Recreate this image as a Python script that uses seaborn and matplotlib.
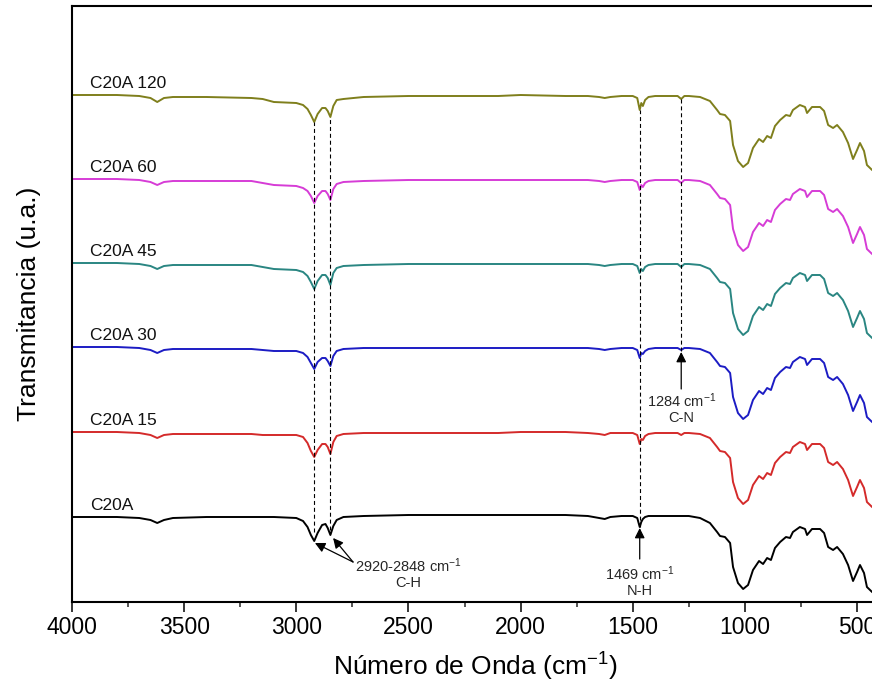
import matplotlib
matplotlib.use("Agg")
import matplotlib.pyplot as plt
import pandas as pd
import seaborn as sns

# ---------------- data ----------------
wavenumber = [4000, 3800, 3700, 3650, 3620, 3590, 3550, 3400, 3200, 3150, 3100, 3000,
              2970, 2950, 2935, 2920, 2905, 2885, 2870, 2860, 2848, 2835, 2820, 2790,
              2700, 2500, 2300, 2100, 2000, 1800, 1700, 1650, 1625, 1600, 1550, 1500,
              1480, 1469, 1462, 1455, 1445, 1430, 1400, 1350, 1300, 1284, 1270, 1250,
              1200, 1156, 1124, 1111, 1089, 1066, 1053, 1031, 1008, 986, 964, 937,
              919, 901, 884, 866, 843, 817, 799, 786, 755, 732, 723, 701,
              665, 647, 629, 607, 589, 563, 540, 518, 500, 487, 469, 456,
              433, 420]

series_names = ["C20A", "C20A 15", "C20A 30", "C20A 45", "C20A 60", "C20A 120"]
# vertical offset (flat level) of each stacked spectrum, arbitrary units
levels = [85, 170, 255, 339, 423, 507]
colors = ["#000000", "#d42a2a", "#1c1cc4", "#2a8682", "#d63cd6", "#7f7f1c"]

# downward excursion (band depth) of each spectrum below its flat level
dip_c20a = [0, 0, 1, 3, 6, 3, 1, 0, 0, 0, 0, 1,
            4, 10, 18, 24, 16, 8, 7, 11, 18, 9, 3, 0,
            -1, -2, -2, -2, -2, -2, -1, 1, 2, 0, -1, -1,
            1, 10, 5, 2, 0, -1, -1, -1, -1, -1, -1, -1,
            1, 6, 15, 19, 20, 26, 50, 66, 72, 68, 53, 44,
            47, 41, 43, 31, 25, 20, 21, 15, 10, 12, 18, 12,
            12, 16, 30, 33, 30, 37, 48, 64, 55, 48, 56, 70,
            75, 77]
dip_c20a_15 = [0, 0, 1, 3, 6, 3, 2, 2, 2, 3, 3, 3,
               5, 11, 19, 25, 18, 12, 12, 15, 22, 10, 4, 2,
               1, 1, 1, 1, 0, 0, 1, 2, 3, 1, 1, 1,
               3, 12, 7, 8, 4, 2, 1, 1, 1, 3, 1, 1,
               2, 6, 15, 19, 20, 26, 50, 66, 72, 68, 53, 44,
               47, 41, 43, 31, 25, 20, 21, 15, 10, 12, 18, 12,
               12, 16, 30, 33, 30, 37, 48, 64, 55, 48, 56, 70,
               75, 77]
dip_c20a_30 = [0, 0, 1, 3, 6, 3, 2, 2, 2, 3, 4, 4,
               6, 10, 16, 22, 15, 11, 11, 14, 19, 9, 4, 2,
               1, 1, 1, 1, 1, 1, 1, 2, 3, 2, 1, 1,
               3, 11, 6, 7, 4, 2, 1, 1, 1, 3, 1, 1,
               2, 6, 15, 19, 20, 26, 50, 66, 72, 68, 53, 44,
               47, 41, 43, 31, 25, 20, 21, 15, 10, 12, 18, 12,
               12, 16, 30, 33, 30, 37, 48, 64, 55, 48, 56, 70,
               75, 77]
dip_c20a_45 = [0, 0, 1, 3, 6, 3, 2, 2, 2, 4, 6, 7,
               9, 13, 19, 26, 18, 12, 12, 15, 22, 10, 5, 3,
               2, 1, 1, 1, 1, 1, 1, 2, 3, 2, 1, 1,
               3, 10, 6, 8, 4, 2, 1, 1, 1, 4, 1, 1,
               2, 6, 15, 19, 20, 26, 50, 66, 72, 68, 53, 44,
               47, 41, 43, 31, 25, 20, 21, 15, 10, 12, 18, 12,
               12, 16, 30, 33, 30, 37, 48, 64, 55, 48, 56, 70,
               75, 77]
dip_c20a_60 = [0, 0, 1, 3, 6, 3, 2, 2, 2, 4, 6, 7,
               9, 12, 17, 24, 17, 12, 12, 15, 21, 10, 5, 3,
               2, 1, 1, 1, 1, 1, 1, 2, 3, 2, 1, 1,
               3, 11, 6, 8, 4, 2, 1, 1, 1, 4, 1, 1,
               2, 6, 15, 19, 20, 26, 50, 66, 72, 68, 53, 44,
               47, 41, 43, 31, 25, 20, 21, 15, 10, 12, 18, 12,
               12, 16, 30, 33, 30, 37, 48, 64, 55, 48, 56, 70,
               75, 77]
dip_c20a_120 = [0, 0, 1, 3, 7, 3, 2, 2, 3, 4, 7, 8,
                10, 14, 20, 27, 19, 13, 13, 16, 22, 11, 5, 4,
                2, 1, 1, 1, 0, 1, 1, 2, 3, 2, 1, 1,
                3, 15, 8, 11, 5, 2, 1, 1, 1, 4, 1, 1,
                2, 6, 15, 19, 20, 26, 50, 66, 72, 68, 53, 44,
                47, 41, 43, 31, 25, 20, 21, 15, 10, 12, 18, 12,
                12, 16, 30, 33, 30, 37, 48, 64, 55, 48, 56, 70,
                75, 77]
dips = [dip_c20a, dip_c20a_15, dip_c20a_30, dip_c20a_45, dip_c20a_60, dip_c20a_120]

xticks = [4000, 3500, 3000, 2500, 2000, 1500, 1000, 500]
xminor = [3750, 3250, 2750, 2250, 1750, 1250, 750]

# ---------------- figure ----------------
sns.set_theme(style="white")
plt.rcParams["font.family"] = ["Liberation Sans", "DejaVu Sans"]
plt.rcParams["mathtext.fontset"] = "custom"
plt.rcParams["mathtext.rm"] = "Liberation Sans"
plt.rcParams["mathtext.it"] = "Liberation Sans:italic"
plt.rcParams["mathtext.bf"] = "Liberation Sans:bold"

rows = []
for name, lvl, dip in zip(series_names, levels, dips):
    for w, d in zip(wavenumber, dip):
        rows.append({"wn": w, "T": lvl - d, "serie": name})
df = pd.DataFrame(rows)

fig = plt.figure(figsize=(8.72, 6.93), dpi=100)
ax = fig.add_axes([72 / 872, 91 / 693, 807.5 / 872, 596 / 693])

sns.lineplot(data=df, x="wn", y="T", hue="serie", hue_order=series_names,
             palette=dict(zip(series_names, colors)), estimator=None,
             sort=False, legend=False, linewidth=1.4, ax=ax)

ax.set_xlim(4000, 400)
ax.set_ylim(0, 596)
ax.set_xticks(xticks)
ax.set_xticks(xminor, minor=True)
ax.set_yticks([])
ax.tick_params(axis="x", which="major", direction="out", length=7.2, width=1.1,
               labelsize=16.5, pad=3, colors="black", bottom=True)
ax.tick_params(axis="x", which="minor", direction="out", length=3.6, width=1.1,
               bottom=True)
for sp in ax.spines.values():
    sp.set_color("black")
    sp.set_linewidth(1.5)

ax.set_xlabel("Número de Onda (cm$^{-1}$)", fontsize=19, color="black")
ax.xaxis.set_label_coords(0.5, -0.082)
ax.set_ylabel("Transmitancia (u.a.)", fontsize=19, color="black")
ax.yaxis.set_label_coords(-0.038, 0.5)

# series labels
for name, lvl in zip(series_names, levels):
    ax.text(3920, lvl + 7, name, fontsize=12.5, ha="left", va="baseline", color="#111111")

# dashed guide lines
ax.vlines([2920, 2848, 1469, 1284], [70, 72, 75, 251], [480, 485, 492, 503],
          colors="black", linestyles=(0, (3.6, 2.6)), linewidth=0.8)

arrow = dict(arrowstyle="-|>", color="black", lw=0.9, mutation_scale=15,
             shrinkA=0, shrinkB=0)
ax.annotate("", xy=(2917, 59), xytext=(2747, 40), arrowprops=arrow)
ax.annotate("", xy=(2836, 64), xytext=(2747, 40), arrowprops=arrow)
ax.annotate("", xy=(1469, 74), xytext=(1469, 43), arrowprops=arrow)
ax.annotate("", xy=(1284, 250), xytext=(1284, 213), arrowprops=arrow)

ax.text(2740, 46, "2920-2848 cm$^{-1}$\nC-H", ha="left", va="top", fontsize=10.5,
        multialignment="center", linespacing=1.1)
ax.text(1469, 38, "1469 cm$^{-1}$\nN-H", ha="center", va="top", fontsize=10.5,
        multialignment="center", linespacing=1.1)
ax.text(1284, 211, "1284 cm$^{-1}$\nC-N", ha="center", va="top", fontsize=10.5,
        multialignment="center", linespacing=1.1)

fig.savefig("out.png", dpi=100, facecolor="white")
